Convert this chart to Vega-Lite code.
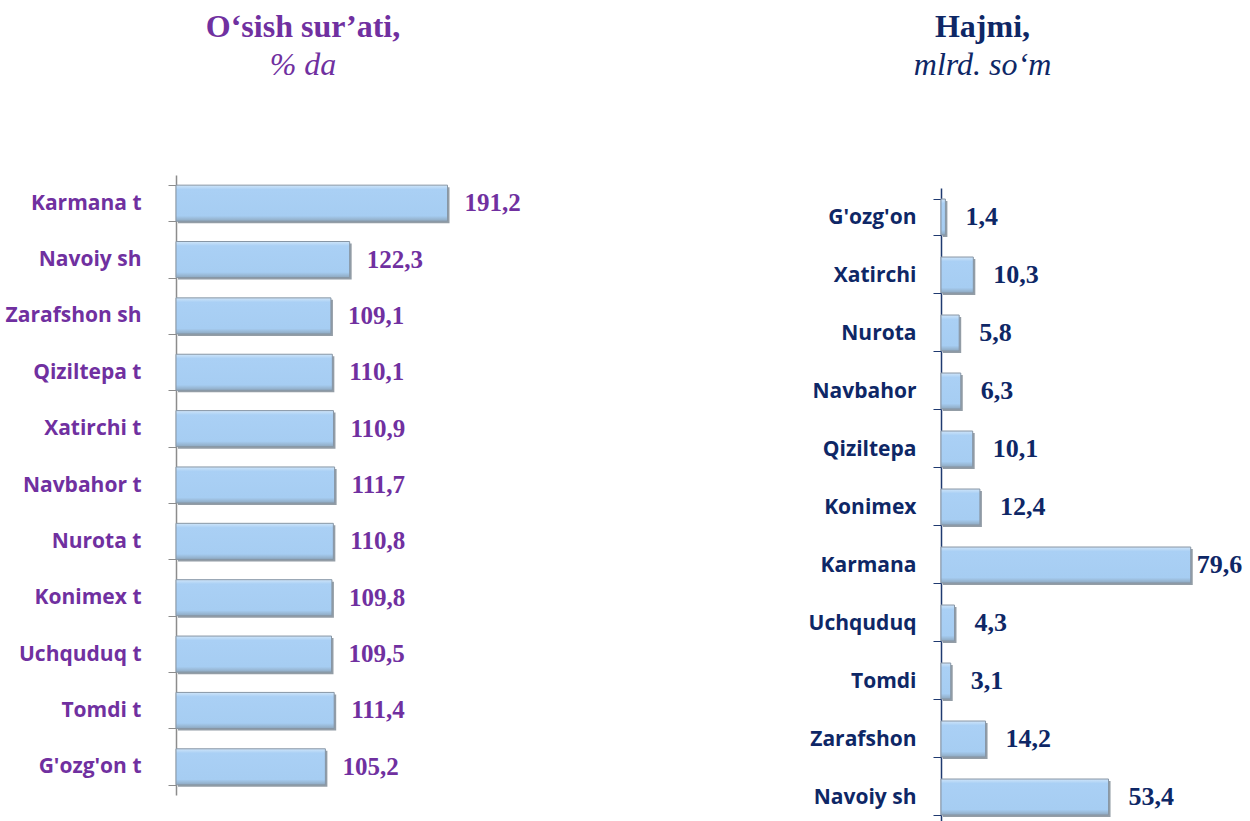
{
  "$schema": "https://vega.github.io/schema/vega-lite/v6.json",
  "background": "white",
  "padding": {"top": 11, "left": 5, "right": 0, "bottom": 5},
  "config": {
    "view": {"stroke": null},
    "concat": {"spacing": 287},
    "locale": {"number": {"decimal": ",", "thousands": " ", "grouping": [3], "currency": ["", ""]}}
  },
  "datasets": {
    "growth": [
      {"region": "Karmana t", "value": 191.2},
      {"region": "Navoiy sh", "value": 122.3},
      {"region": "Zarafshon sh", "value": 109.1},
      {"region": "Qiziltepa t", "value": 110.1},
      {"region": "Xatirchi t", "value": 110.9},
      {"region": "Navbahor t", "value": 111.7},
      {"region": "Nurota t", "value": 110.8},
      {"region": "Konimex t", "value": 109.8},
      {"region": "Uchquduq t", "value": 109.5},
      {"region": "Tomdi t", "value": 111.4},
      {"region": "G'ozg'on t", "value": 105.2}
    ],
    "volume": [
      {"region": "G'ozg'on", "value": 1.4},
      {"region": "Xatirchi", "value": 10.3},
      {"region": "Nurota", "value": 5.8},
      {"region": "Navbahor", "value": 6.3},
      {"region": "Qiziltepa", "value": 10.1},
      {"region": "Konimex", "value": 12.4},
      {"region": "Karmana", "value": 79.6},
      {"region": "Uchquduq", "value": 4.3},
      {"region": "Tomdi", "value": 3.1},
      {"region": "Zarafshon", "value": 14.2},
      {"region": "Navoiy sh", "value": 53.4}
    ]
  },
  "hconcat": [
    {
      "width": 284,
      "height": 620,
      "data": {"name": "growth"},
      "title": {
        "text": "O‘sish  sur’ati,",
        "subtitle": "% da",
        "anchor": "middle",
        "frame": "group",
        "dx": -15,
        "offset": 82,
        "font": "Liberation Serif",
        "fontSize": 32,
        "fontWeight": "bold",
        "color": "#7030A0",
        "subtitleFont": "Liberation Serif",
        "subtitleFontSize": 32,
        "subtitleFontStyle": "italic",
        "subtitleColor": "#7030A0",
        "subtitlePadding": 6
      },
      "encoding": {
        "y": {
          "field": "region",
          "type": "nominal",
          "sort": null,
          "scale": {"paddingInner": 0.36, "paddingOuter": 0.18},
          "axis": {
            "title": null,
            "tickBand": "extent",
            "tickSize": 8,
            "tickColor": "#8c8c8c",
            "domainColor": "#8c8c8c",
            "domainWidth": 1.5,
            "labelPadding": 27,
            "labelFont": "Open Sans",
            "labelFontWeight": "bold",
            "labelFontSize": 21,
            "labelColor": "#7030A0"
          }
        },
        "x": {"field": "value", "type": "quantitative", "scale": {"domain": [0, 200]}, "axis": null}
      },
      "layer": [
        {"mark": {"type": "bar", "color": "#6f7c88", "opacity": 0.75, "xOffset": 2, "yOffset": 2}},
        {"mark": {"type": "bar", "color": {"gradient": "linear", "x1": 0, "y1": 0, "x2": 0, "y2": 1, "stops": [{"offset": 0, "color": "#cfe5f9"}, {"offset": 0.12, "color": "#aad0f5"}, {"offset": 0.85, "color": "#a6cdf2"}, {"offset": 1, "color": "#8ea8bf"}]}, "stroke": "#8796a5", "strokeWidth": 1}},
        {
          "mark": {"type": "text", "align": "left", "baseline": "middle", "dx": 17, "font": "Liberation Serif", "fontWeight": "bold", "fontSize": 25, "color": "#7030A0"},
          "encoding": {"text": {"field": "value", "type": "quantitative", "format": ".1f"}}
        }
      ]
    },
    {
      "width": 251,
      "height": 651,
      "data": {"name": "volume"},
      "title": {
        "text": "Hajmi,",
        "subtitle": "mlrd. so‘m",
        "anchor": "middle",
        "frame": "group",
        "dx": -84,
        "offset": 82,
        "font": "Liberation Serif",
        "fontSize": 32,
        "fontWeight": "bold",
        "color": "#0E2766",
        "subtitleFont": "Liberation Serif",
        "subtitleFontSize": 32,
        "subtitleFontStyle": "italic",
        "subtitleColor": "#0E2766",
        "subtitlePadding": 6
      },
      "encoding": {
        "y": {
          "field": "region",
          "type": "nominal",
          "sort": null,
          "scale": {"paddingInner": 0.38, "paddingOuter": 0.19, "range": [13, 651]},
          "axis": {
            "title": null,
            "tickBand": "extent",
            "tickSize": 8,
            "tickColor": "#1F3A70",
            "domainColor": "#1F3A70",
            "domainWidth": 1.5,
            "labelPadding": 17,
            "labelFont": "Open Sans",
            "labelFontWeight": "bold",
            "labelFontSize": 21,
            "labelColor": "#0E2766"
          }
        },
        "x": {"field": "value", "type": "quantitative", "scale": {"domain": [0, 80]}, "axis": null}
      },
      "layer": [
        {"mark": {"type": "bar", "color": "#6f7c88", "opacity": 0.75, "xOffset": 2, "yOffset": 2}},
        {"mark": {"type": "bar", "color": {"gradient": "linear", "x1": 0, "y1": 0, "x2": 0, "y2": 1, "stops": [{"offset": 0, "color": "#cfe5f9"}, {"offset": 0.12, "color": "#aad0f5"}, {"offset": 0.85, "color": "#a6cdf2"}, {"offset": 1, "color": "#8ea8bf"}]}, "stroke": "#8796a5", "strokeWidth": 1}},
        {
          "transform": [{"filter": "datum.value < 70"}],
          "mark": {"type": "text", "align": "left", "baseline": "middle", "dx": 20, "font": "Liberation Serif", "fontWeight": "bold", "fontSize": 26, "color": "#0E2766"},
          "encoding": {"text": {"field": "value", "type": "quantitative", "format": ".1f"}}
        },
        {
          "transform": [{"filter": "datum.value >= 70"}],
          "mark": {"type": "text", "align": "left", "baseline": "middle", "dx": 6, "font": "Liberation Serif", "fontWeight": "bold", "fontSize": 26, "color": "#0E2766"},
          "encoding": {"text": {"field": "value", "type": "quantitative", "format": ".1f"}}
        }
      ]
    }
  ]
}
